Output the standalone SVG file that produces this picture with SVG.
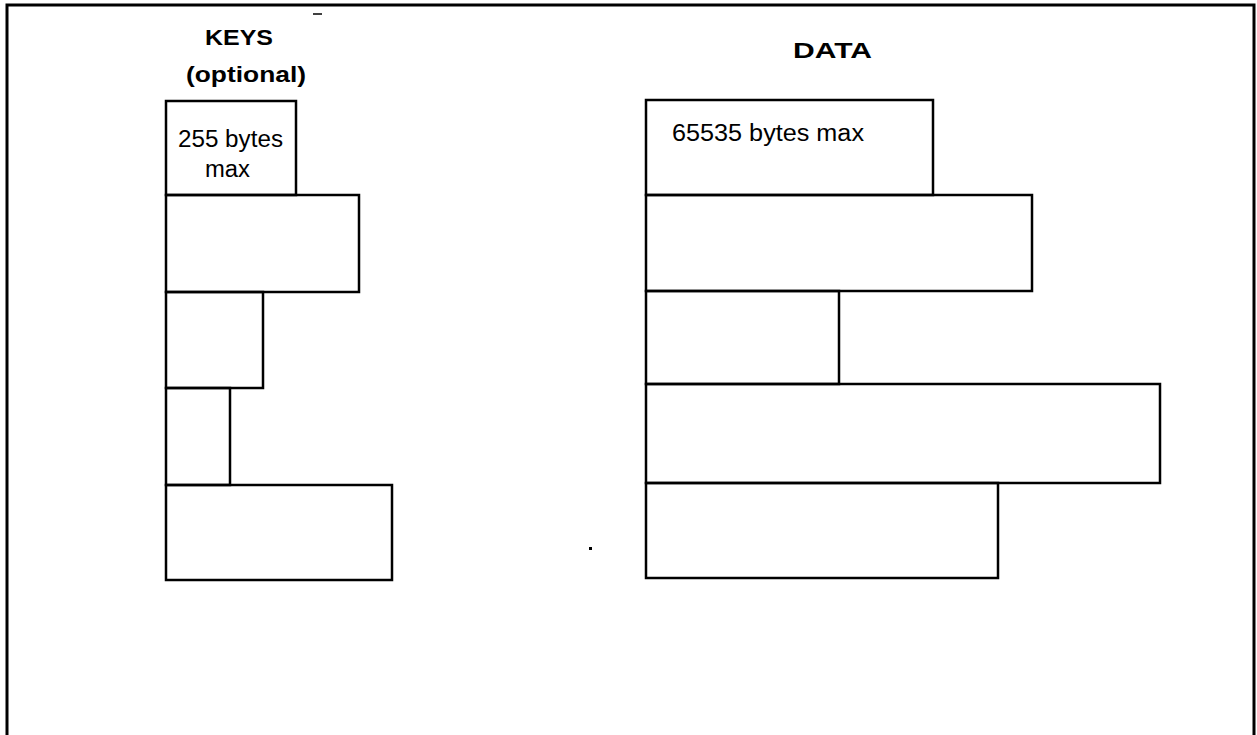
<svg xmlns="http://www.w3.org/2000/svg" width="1257" height="735" viewBox="0 0 1257 735">
<style>
.bx{fill:none;stroke:#000;stroke-width:2.5}
.fr{fill:none;stroke:#000;stroke-width:3}
.t{font-family:"Liberation Sans",Arial,sans-serif;fill:#000}
.h{font-size:22px;font-weight:bold}
.s{font-size:23px}
</style>
<rect width="1257" height="735" fill="#fff"/>
<g id="frame">
<path class="fr" d="M7,737 V5 H1254 V737"/>
<path d="M313,14 H322" stroke="#000" stroke-width="1.5"/>
<rect x="589" y="547" width="3" height="3" fill="#000"/>
</g>
<g id="keys">
<text class="t h" x="205" y="45" textLength="68" lengthAdjust="spacingAndGlyphs">KEYS</text>
<text class="t h" x="186" y="82" textLength="120" lengthAdjust="spacingAndGlyphs">(optional)</text>
<g id="k1"><rect class="bx" x="166" y="101" width="130" height="94"/>
<text class="t s" x="178" y="147" textLength="105" lengthAdjust="spacingAndGlyphs">255 bytes</text>
<text class="t s" x="205" y="177" textLength="45" lengthAdjust="spacingAndGlyphs">max</text></g>
<g id="k2"><rect class="bx" x="166" y="195" width="193" height="97"/></g>
<g id="k3"><rect class="bx" x="166" y="292" width="97" height="96"/></g>
<g id="k4"><rect class="bx" x="166" y="388" width="64" height="97"/></g>
<g id="k5"><rect class="bx" x="166" y="485" width="226" height="95"/></g>
</g>
<g id="data">
<text class="t h" x="793" y="58" textLength="79" lengthAdjust="spacingAndGlyphs">DATA</text>
<g id="d1"><rect class="bx" x="646" y="100" width="287" height="95"/>
<text class="t s" x="672" y="141" textLength="192" lengthAdjust="spacingAndGlyphs">65535 bytes max</text></g>
<g id="d2"><rect class="bx" x="646" y="195" width="386" height="96"/></g>
<g id="d3"><rect class="bx" x="646" y="291" width="193" height="93"/></g>
<g id="d4"><rect class="bx" x="646" y="384" width="514" height="99"/></g>
<g id="d5"><rect class="bx" x="646" y="483" width="352" height="95"/></g>
</g>
<g id="connectors"/>
</svg>
